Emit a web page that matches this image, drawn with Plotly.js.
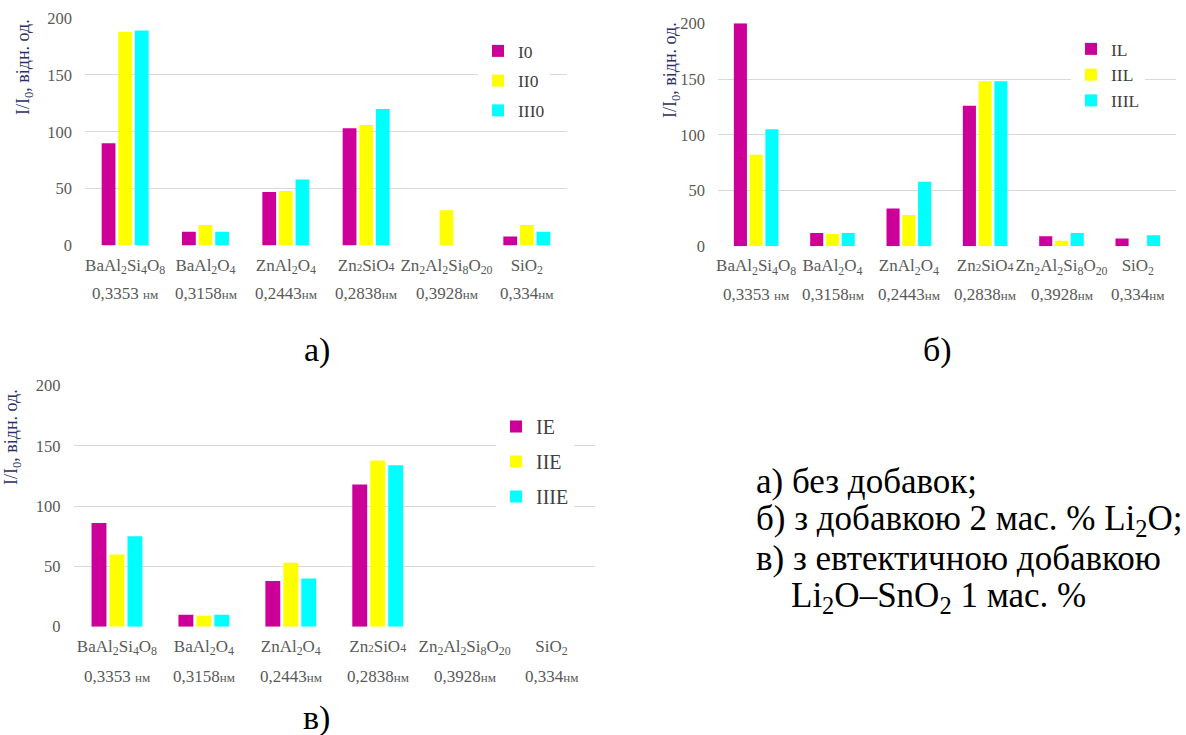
<!DOCTYPE html>
<html><head><meta charset="utf-8">
<script src="https://cdn.plot.ly/plotly-3.0.1.min.js"></script>
<style>html,body{margin:0;padding:0;background:#fff;} #chart{width:1186px;height:735px;}</style>
</head><body><div id="chart"></div>
<script>
// ---------- data ----------
const categories = ['BaAl2Si4O8', 'BaAl2O4', 'ZnAl2O4', 'Zn2SiO4', 'Zn2Al2Si8O20', 'SiO2'];
const formulaLabels = [
  'BaAl<sub>2</sub>Si<sub>4</sub>O<sub>8</sub>',
  'BaAl<sub>2</sub>O<sub>4</sub>',
  'ZnAl<sub>2</sub>O<sub>4</sub>',
  'Zn<span style="font-size:11px">2</span>SiO<span style="font-size:12px">4</span>',
  'Zn<sub>2</sub>Al<sub>2</sub>Si<sub>8</sub>O<sub>20</sub>',
  'SiO<sub>2</sub>'
];
const spacingLabels = ['0,3353 нм', '0,3158нм', '0,2443нм', '0,2838нм', '0,3928нм', '0,334нм'];

// а) без добавок
const I0   = [90, 12, 47, 103, 0, 8];
const II0  = [188, 18, 48, 106, 31, 18];
const III0 = [189, 12, 58, 120, 0, 12];
// б) з добавкою 2 мас. % Li2O
const IL   = [200, 12, 34, 126, 9, 7];
const IIL  = [82, 11, 28, 148, 5, 0];
const IIIL = [105, 12, 58, 148, 12, 10];
// в) з евтектичною добавкою Li2O–SnO2 1 мас. %
const IE   = [86, 10, 38, 118, 0, 0];
const IIE  = [60, 9, 53, 138, 0, 0];
const IIIE = [75, 10, 40, 134, 0, 0];

const seriesNames = [['I0', 'II0', 'III0'], ['IL', 'IIL', 'IIIL'], ['IE', 'IIE', 'IIIE']];
const yTicks = [0, 50, 100, 150, 200];
const yTitle = 'I/I<sub>0</sub>, відн. од.';
const panelCaptions = ['а)', 'б)', 'в)'];
const noteLines = [
  'а) без добавок;',
  'б) з добавкою 2 мас. % Li<sub>2</sub>O;',
  'в) з евтектичною добавкою',
  'Li<sub>2</sub>O–SnO<sub>2</sub> 1 мас. %'
];

// ---------- style ----------
const W = 1186, H = 735;
const colors = ['#CC0099', '#FFFF00', '#00FFFF'];
const serif = '"Liberation Serif", "Times New Roman", serif';
const px = v => v / W;
const py = v => 1 - v / H;

const panelData = [[I0, II0, III0], [IL, IIL, IIIL], [IE, IIE, IIIE]];
const axisIds = [['x', 'y'], ['x2', 'y2'], ['x3', 'y3']];
const legendIds = ['legend', 'legend2', 'legend3'];

const traces = [];
panelData.forEach((series, p) => {
  series.forEach((vals, s) => {
    traces.push({
      type: 'bar', x: categories, y: vals, name: seriesNames[p][s],
      xaxis: axisIds[p][0], yaxis: axisIds[p][1],
      marker: {color: colors[s], line: {width: 0}},
      legend: legendIds[p], legendgroup: 'g' + p + s,
      hoverinfo: 'skip'
    });
  });
});

const spacingText = spacingLabels.map(s => s.replace('нм', '<span style="font-size:13px">нм</span>'));

function xAxis(domain, anchor) {
  return {domain, anchor, type: 'category', tickvals: categories, ticktext: formulaLabels,
    tickangle: 0, automargin: false,
    showgrid: false, zeroline: false, showline: false, ticks: '',
    tickfont: {family: serif, size: 17, color: '#595959'}, ticklabelstandoff: 7, fixedrange: true};
}
function yAxis(domain, anchor) {
  return {domain, anchor, range: [0, 200], tickvals: yTicks, showgrid: true, gridcolor: '#D9D9D9',
    gridwidth: 1, zeroline: false, showline: false, ticks: '', automargin: false,
    tickfont: {family: serif, size: 16.5, color: '#595959'}, ticklabelstandoff: 12, fixedrange: true};
}

const layout = {
  width: W, height: H, autosize: false,
  margin: {l: 0, r: 0, t: 0, b: 0},
  paper_bgcolor: '#fff', plot_bgcolor: '#fff',
  barmode: 'group', bargap: 0.38, bargroupgap: 0.17,
  showlegend: true,
  xaxis:  xAxis([px(85), px(567)], 'y'),
  yaxis:  yAxis([py(245.5), py(18)], 'x'),
  xaxis2: xAxis([px(718), px(1176)], 'y2'),
  yaxis2: yAxis([py(246.3), py(23.3)], 'x2'),
  xaxis3: xAxis([px(73.5), px(595)], 'y3'),
  yaxis3: yAxis([py(626.7), py(385.7)], 'x3'),
  legend:  {x: px(478), xanchor: 'left', y: py(33), yanchor: 'top', bgcolor: '#fff', borderwidth: 0,
            font: {family: serif, size: 17.5, color: '#404040'}, tracegroupgap: 4},
  legend2: {x: px(1071), xanchor: 'left', y: py(31), yanchor: 'top', bgcolor: '#fff', borderwidth: 0,
            font: {family: serif, size: 17.5, color: '#404040'}, tracegroupgap: 0},
  legend3: {x: px(496), xanchor: 'left', y: py(407), yanchor: 'top', bgcolor: '#fff', borderwidth: 0,
            font: {family: serif, size: 20, color: '#404040'}, tracegroupgap: 6},
  annotations: []
};

// second line of category labels (interplanar spacing), placed on each panel's category scale
[['x', 293], ['x2', 294], ['x3', 676]].forEach(([xr, y]) => {
  categories.forEach((c, i) => {
    layout.annotations.push({xref: xr, yref: 'paper', x: c, y: py(y), xanchor: 'center', yanchor: 'middle',
      text: spacingText[i], showarrow: false, font: {family: serif, size: 17, color: '#595959'}});
  });
});
// y-axis titles
[[24, 67], [671, 70], [13, 437]].forEach(([x, y]) => {
  layout.annotations.push({xref: 'paper', yref: 'paper', x: px(x), y: py(y), xanchor: 'center', yanchor: 'middle',
    text: yTitle, textangle: -90, showarrow: false, font: {family: serif, size: 18, color: '#2A2F6A'}});
});
// panel captions
[[317, 350], [937, 350], [317, 718]].forEach(([x, y], i) => {
  layout.annotations.push({xref: 'paper', yref: 'paper', x: px(x), y: py(y), xanchor: 'center', yanchor: 'middle',
    text: panelCaptions[i], showarrow: false, font: {family: serif, size: 34, color: '#000'}});
});
// notes
[[754, 481], [754, 520], [754, 558], [789, 597]].forEach(([x, y], i) => {
  layout.annotations.push({xref: 'paper', yref: 'paper', x: px(x), y: py(y), xanchor: 'left', yanchor: 'middle',
    text: noteLines[i], showarrow: false, font: {family: serif, size: 35, color: '#000'}});
});

Plotly.newPlot('chart', traces, layout, {staticPlot: true, displayModeBar: false});
</script></body></html>
